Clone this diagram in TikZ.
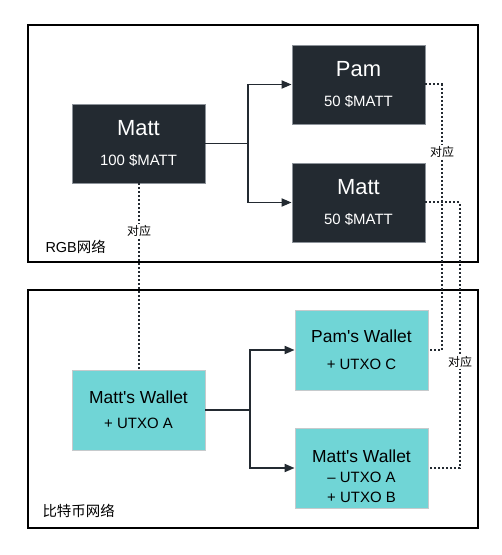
\documentclass[tikz,border=0pt]{standalone}
\usepackage{fontspec}
\setmainfont{Liberation Sans}
\newfontfamily\cjk{Noto Sans CJK SC}
\usetikzlibrary{arrows.meta}
\definecolor{boxdark}{HTML}{232A31}
\definecolor{boxteal}{HTML}{70D5D6}
\definecolor{rimgray}{HTML}{8C9299}
\definecolor{rimlight}{HTML}{C6CACC}

\begin{document}
\begin{tikzpicture}[x=1bp,y=-1bp,
  rgbbox/.style={rectangle,fill=boxdark,draw=rimgray,line width=0.8bp,text=white,minimum width=133bp,minimum height=79bp,align=center,inner sep=0pt},
  btcbox/.style={rectangle,fill=boxteal,draw=rimlight,line width=0.8bp,text=black,minimum width=133bp,minimum height=80bp,align=center,inner sep=0pt},
  flow/.style={line width=1.8bp,draw=boxdark,-{Triangle[length=10bp,width=8bp]}},
  link/.style={line width=2bp,draw=boxdark,dash pattern=on 2bp off 2bp},
  tag/.style={font=\cjk\fontsize{12}{14}\selectfont,fill=white,inner sep=1bp},
  frame/.style={line width=2bp,draw=black}]
\useasboundingbox (0,0) rectangle (502,555);
\draw[frame] (28,25) rectangle (478,262);
\draw[frame] (28,290) rectangle (478,528);
\draw (42,247) node[anchor=west,font=\fontsize{14.5}{16}\selectfont] (rgbnet) {RGB{\cjk 网络}};
\draw (39,511) node[anchor=west,font=\cjk\fontsize{14.5}{16}\selectfont] (btcnet) {比特币网络};

\draw (138.5,143.5) node[rgbbox,font=\fontsize{15}{30}\selectfont] (mattRGB) {{\fontsize{22}{30}\selectfont Matt}\\100 \$MATT};
\draw (358.5,84.5) node[rgbbox,font=\fontsize{15}{30}\selectfont] (pamRGB) {{\fontsize{22}{30}\selectfont Pam}\\50 \$MATT};
\draw (358.5,202.5) node[rgbbox,font=\fontsize{15}{30}\selectfont] (mattRGB2) {{\fontsize{22}{30}\selectfont Matt}\\50 \$MATT};

\draw (138.5,410) node[btcbox,font=\fontsize{15}{25}\selectfont] (mattBTC) {{\fontsize{17.5}{25}\selectfont Matt\textquotesingle s Wallet}\\+ UTXO A};
\draw (361.5,350) node[btcbox,font=\fontsize{15}{27}\selectfont] (pamBTC) {{\fontsize{17.5}{27}\selectfont Pam\textquotesingle s Wallet}\\+ UTXO C};
\draw (361.5,468) node[btcbox,font=\fontsize{15}{20}\selectfont] (mattBTC2) {\mbox{}\\[9bp]{\fontsize{17.5}{20}\selectfont Matt\textquotesingle s Wallet}\\\textendash{} UTXO A\\+ UTXO B};

\coordinate (rgbsplit) at (248,143.5);
\coordinate (btcsplit) at (250,410);
\draw[line width=1.8bp,draw=boxdark] (mattRGB.east) -- (rgbsplit);
\draw[flow] (rgbsplit) |- (pamRGB.west);
\draw[flow] (rgbsplit) |- (mattRGB2.west);
\draw[line width=1.8bp,draw=boxdark] (mattBTC.east) -- (btcsplit);
\draw[flow] (btcsplit) |- (pamBTC.west);
\draw[flow] (btcsplit) |- (mattBTC2.west);

\coordinate (pamturn) at (442,217);
\coordinate (mattturn) at (460,330);
\draw[link] (mattRGB.south) -- (mattBTC.north);
\draw[link] (pamRGB.east) -| (pamturn) |- (pamBTC.east);
\draw[link] (mattRGB2.east) -| (mattturn) |- (mattBTC2.east);
\draw (139,231) node[tag] (tagmatt) {对应};
\draw (442,152) node[tag] (tagpam) {对应};
\draw (460,362) node[tag] (tagmatt2) {对应};
\end{tikzpicture}
\end{document}
